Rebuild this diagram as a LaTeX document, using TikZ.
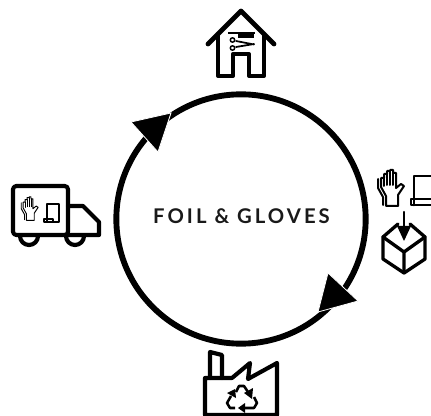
\documentclass[tikz,border=0pt]{standalone}
\usepackage{fontspec}
\setmainfont{Lato}
\tikzset{
  x=0.75pt,y=-0.75pt,
  ring/.style={line width=4.4pt,black},
  tipshape/.style={fill=black,draw=white,line width=0.6pt,line join=miter},
  icon/.style={line width=3.1pt,line join=round,line cap=round},
  thin icon/.style={line width=1.3pt,line join=round,line cap=round},
  recycle/.style={line width=1.9pt,line join=round},
  hand/.pic={
    \draw[thin icon,line width=#1,fill=white] (-7,19) -- (-7,9) -- (-12,0) -- (-12,-9) -- (-9,-9) -- (-9,-13) -- (-6,-13) -- (-6,-16) -- (-3,-16) -- (-3,-17) -- (0,-17) -- (0,-14) -- (3,-14) -- (3,1)
      -- (8,-3) -- (11,-1) -- (5,8) -- (5,19) -- cycle;
    \draw[thin icon,line width=#1] (-9,-9) -- (-9,-1) (-6,-13) -- (-6,-2) (-3,-16) -- (-3,-2) (0,-14) -- (0,-2);
    \draw[thin icon,line width=#1] (-15,-8) -- (-15,1) -- (-10,10) -- (-10,18);
  }
}
\begin{document}
\begin{tikzpicture}
\useasboundingbox (0,0) rectangle (431,416);
% ring
\node[circle,draw,ring,minimum size=187pt,inner sep=0pt] (ringc) at (241,219) {};
\draw[tipshape] (171,113) -- (131,122) -- (158,152) -- cycle;
\draw[tipshape] (318,312) -- (328,273) -- (358,301) -- cycle;
\node[font=\bfseries\fontsize{15.2pt}{18pt}\selectfont,text=black!90] (title) at (241.5,216.5)
  {\addfontfeature{LetterSpace=15}FOIL \& GLOVES};
% house
\draw[icon,line width=3.6pt] (208,44) -- (241,11) -- (274,44);
\draw[icon] (218,34) -- (218,76) -- (233,76) -- (233,54) -- (249,54) -- (249,76) -- (264,76) -- (264,34);
\fill (228,32) rectangle (255,34.5);
\fill (238,34.5) rectangle (254,38);
\draw[thin icon] (236,41) -- (254,44.5) (236,47) -- (254,44);
\draw[thin icon,line width=1.1pt] (232.5,40) circle (2.2) (232.5,48) circle (2.2);
% truck
\draw[icon,rounded corners=2.5pt] (13,186) rectangle (68,235);
\draw[icon] (68,206) -- (83,206) -- (99,222) -- (99,235) -- (68,235);
\draw[icon] (20,236) arc[start angle=180,end angle=0,radius=9];
\draw[icon] (66,236) arc[start angle=180,end angle=0,radius=9];
\pic[scale=0.65] at (31,208) {hand={0.7pt}};
\draw[thin icon] (47,222) -- (47,204) -- (59,204) -- (59,222) -- (44,222) -- (44,219) -- (53,219) -- (53,222);
% right icon
\pic at (393,187) {hand={1.5pt}};
\draw[icon,line width=2pt] (414,205) -- (414,176) -- (431,176);
\draw[icon,line width=2pt] (431,205) -- (411,205) -- (411,199) -- (431,199);
\draw[icon,line width=1.6pt] (404,212) -- (404,232);
\fill (397,226) -- (404,241) -- (411,226) -- cycle;
\draw[icon,line width=2.5pt] (398,224) -- (383,237) -- (383,259) -- (404,273) -- (425,259) -- (425,237) -- (410,224);
\draw[icon,line width=2.5pt] (383,237) -- (404,252) -- (425,237) (404,252) -- (404,273);
% factory
\draw[icon] (205,415) -- (205,378) -- (232,378) -- (250,363) -- (248,379) -- (277,363) -- (277,415) -- cycle;
\draw[icon] (210,378) -- (210,352) -- (222,355) -- (222,378);
\draw[recycle] (236,392) -- (239,386) -- (244,386) -- (248,392);
\fill (252,399) -- (244,393) -- (253,388) -- cycle;
\draw[recycle] (254,397) -- (257,403) -- (254,408) -- (245,408);
\fill (238,408) -- (245,403) -- (245,413) -- cycle;
\draw[recycle] (235,408) -- (230,408) -- (227,403) -- (231,396);
\fill (235,389) -- (227,393) -- (236,398) -- cycle;
\end{tikzpicture}
\end{document}
